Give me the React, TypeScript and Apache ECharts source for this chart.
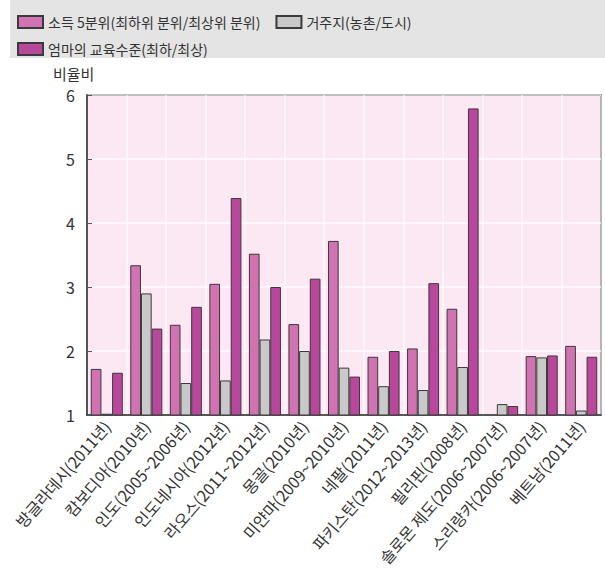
import React, { useEffect, useRef } from "react";
import * as echarts from "echarts";

const categories = [
  "방글라데시(2011년)",
  "캄보디아(2010년)",
  "인도(2005~2006년)",
  "인도네시아(2012년)",
  "라오스(2011~2012년)",
  "몽골(2010년)",
  "미얀마(2009~2010년)",
  "네팔(2011년)",
  "파키스탄(2012~2013년)",
  "필리핀(2008년)",
  "솔로몬 제도(2006~2007년)",
  "스리랑카(2006~2007년)",
  "베트남(2011년)",
];

const incomeName = "소득 5분위(최하위 분위/최상위 분위)";
const residenceName = "거주지(농촌/도시)";
const motherName = "엄마의 교육수준(최하/최상)";

const incomeValues = [1.72, 3.34, 2.41, 3.05, 3.52, 2.42, 3.72, 1.91, 2.04, 2.66, null, 1.92, 2.08];
const residenceValues = [1.02, 2.9, 1.5, 1.54, 2.18, 2.0, 1.74, 1.45, 1.39, 1.75, 1.17, 1.9, 1.07];
const motherValues = [1.66, 2.35, 2.69, 4.39, 3.0, 3.13, 1.6, 2.0, 3.06, 5.79, 1.14, 1.93, 1.91];

const FONT = "'Noto Sans CJK KR', 'Noto Sans', sans-serif";

export default function App() {
  const ref = useRef<HTMLDivElement>(null);
  useEffect(() => {
    if (!ref.current) return;
    const chart = echarts.init(ref.current, null, { renderer: "svg" });
    const barStyle = (color: string) => ({
      color,
      borderColor: "#3a3a3a",
      borderWidth: 1,
    });
    chart.setOption({
      animation: false,
      textStyle: { fontFamily: FONT },
      graphic: [
        {
          type: "rect",
          shape: { x: 10, y: 0, width: 595, height: 58 },
          style: { fill: "#e4e4e4" },
          z: -10,
        },
        {
          type: "text",
          x: 53,
          y: 73,
          style: {
            text: "비율비",
            fontSize: 15,
            fill: "#333",
            fontFamily: FONT,
            textVerticalAlign: "middle",
          },
        },
      ],
      legend: [
        {
          data: [incomeName, residenceName],
          left: 17,
          top: 15,
          padding: 0,
          icon: "rect",
          itemWidth: 25,
          itemHeight: 12,
          itemGap: 15,
          textStyle: { fontSize: 14, color: "#333", fontFamily: FONT },
        },
        {
          data: [motherName],
          left: 17,
          top: 42,
          padding: 0,
          icon: "rect",
          itemWidth: 25,
          itemHeight: 12,
          textStyle: { fontSize: 14, color: "#333", fontFamily: FONT },
        },
      ],
      grid: {
        left: 87,
        right: 4,
        top: 95,
        bottom: 155,
        show: true,
        backgroundColor: "#fbe8f3",
        borderColor: "#333",
        borderWidth: 1.5,
      },
      xAxis: {
        type: "category",
        data: categories,
        axisLine: { lineStyle: { color: "#333", width: 1.5 } },
        axisTick: { inside: true, length: 4, lineStyle: { color: "#999" } },
        splitLine: { show: true, lineStyle: { color: "#ffffff", opacity: 0.7, width: 1.5 } },
        axisLabel: {
          rotate: 49,
          fontSize: 16,
          color: "#333",
          margin: 8,
          interval: 0,
          fontFamily: FONT,
        },
      },
      yAxis: {
        type: "value",
        min: 1,
        max: 6,
        interval: 1,
        axisLine: { show: true, lineStyle: { color: "#333", width: 1.5 } },
        axisTick: { show: true, inside: true, length: 5, lineStyle: { color: "#555" } },
        splitLine: { show: true, lineStyle: { color: "#ffffff", opacity: 0.8, width: 1.5 } },
        axisLabel: { fontSize: 16, color: "#333", margin: 12, fontFamily: FONT },
      },
      series: [
        {
          name: incomeName,
          type: "bar",
          data: incomeValues,
          barGap: "0%",
          barCategoryGap: "19%",
          itemStyle: barStyle("#d172b3"),
        },
        {
          name: residenceName,
          type: "bar",
          data: residenceValues,
          itemStyle: barStyle("#c9c9c9"),
        },
        {
          name: motherName,
          type: "bar",
          data: motherValues,
          itemStyle: barStyle("#b9479c"),
        },
      ],
    });
    return () => chart.dispose();
  }, []);
  return (
    <div
      ref={ref}
      style={{ position: "absolute", left: 0, top: 0, width: 605, height: 570 }}
    />
  );
}
